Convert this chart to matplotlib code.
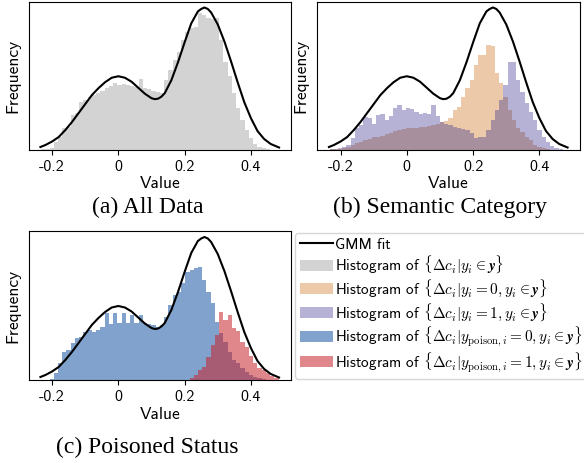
import numpy as np
import matplotlib.pyplot as plt

plt.rcParams['font.family'] = ['cmss10', 'DejaVu Sans']
plt.rcParams['mathtext.fontset'] = 'cm'
plt.rcParams['axes.unicode_minus'] = False

# common histogram bins
bin_start = -0.2332
bin_width = 0.0128
n_bins = 56
edges = bin_start + bin_width * np.arange(n_bins + 1)

# bin heights (same arbitrary frequency units everywhere)
hist_all = [1, 1, 2, 8, 13, 22, 23, 35, 37, 48, 50, 53, 55, 57, 59, 62, 64, 67, 65,
            66, 65, 64, 63, 71, 62, 61, 59, 58, 57, 70, 80, 90, 98, 110, 118, 122,
            123, 137, 135, 132, 131, 132, 110, 88, 74, 57, 42, 30, 20, 12, 6, 3, 2,
            1, 0, 0]
hist_cat0 = [1, 1, 1, 2, 3, 5, 7, 8, 10, 11, 13, 13, 14, 16, 17, 19, 20, 21, 22,
             22, 22, 23, 23, 24, 25, 26, 28, 29, 32, 40, 43, 53, 62, 70, 85, 95, 95,
             105, 104, 77, 67, 53, 40, 30, 22, 18, 13, 10, 5, 3, 2, 1, 0, 0, 0, 0]
hist_cat1 = [1, 1, 2, 3, 5, 12, 22, 25, 33, 32, 26, 35, 36, 30, 34, 42, 45, 40, 42,
             41, 38, 36, 37, 36, 45, 34, 28, 26, 25, 23, 22, 21, 20, 17, 12, 13, 13,
             20, 30, 40, 50, 65, 88, 88, 70, 58, 47, 38, 30, 20, 13, 8, 4, 2, 1, 0]
hist_clean = [0, 0, 1, 7, 17, 28, 30, 37, 42, 43, 48, 50, 48, 50, 53, 67, 56, 67,
              57, 67, 57, 65, 57, 65, 57, 56, 55, 53, 55, 63, 75, 85, 88, 97, 108,
              110, 112, 113, 100, 88, 77, 58, 47, 38, 28, 20, 17, 12, 8, 5, 3, 2, 1,
              0, 0, 0]
hist_poison = [0, 0, 0, 0, 0, 0, 0, 0, 0, 0, 0, 0, 0, 0, 0, 0, 0, 0, 0, 0, 0, 0, 0,
               0, 0, 0, 0, 0, 0, 0, 0, 0, 0, 0, 0, 2, 5, 10, 13, 23, 35, 45, 68, 60,
               65, 52, 49, 38, 33, 24, 17, 12, 10, 7, 4, 2]

# GMM fit curve
gmm_x = [-0.235, -0.22, -0.20, -0.18, -0.16, -0.14, -0.12, -0.10, -0.08, -0.06,
         -0.04, -0.02, 0.00, 0.02, 0.04, 0.06, 0.08, 0.10, 0.11, 0.12, 0.13, 0.14,
         0.16, 0.18, 0.20, 0.22, 0.24, 0.25, 0.26, 0.27, 0.28, 0.30, 0.32, 0.34,
         0.36, 0.38, 0.40, 0.42, 0.44, 0.46, 0.485]
gmm_y = [3, 5, 8.5, 13, 20, 28, 37, 46, 55, 62, 68, 72.5, 74, 72.5, 68.5, 62.5,
         56.5, 52, 51, 51.5, 53.5, 57, 70, 88, 108, 127, 139, 141.5, 143, 141.5,
         138, 126, 109, 89, 68, 48, 32, 19, 11, 6, 2.5]

xticks = [-0.2, 0, 0.2, 0.4]
xtick_labels = ['-0.2', '0', '0.2', '0.4']

W, H = 584, 463
fig = plt.figure(figsize=(W / 100, H / 100), dpi=100)


def make_ax(left, top, right, bottom):
    return fig.add_axes([left / W, 1 - bottom / H, (right - left) / W, (bottom - top) / H])


def finish(ax):
    gmm_line, = ax.plot(gmm_x, gmm_y, color='black', lw=1.5, zorder=3)
    ax.set_xlim(-0.271, 0.521)
    ax.set_ylim(0, 149)
    ax.set_yticks([])
    ax.set_xticks(xticks)
    ax.set_xticklabels(xtick_labels, fontsize=11.5)
    ax.set_xlabel('Value', fontsize=12.5, labelpad=2)
    ax.set_ylabel('Frequency', fontsize=12.5, labelpad=6)
    for s in ax.spines.values():
        s.set_color('black')
    return gmm_line


ax_a = make_ax(28.5, 1.5, 291, 150)
h_all = ax_a.stairs(hist_all, edges, fill=True, color='#d3d3d3', lw=0)
line = finish(ax_a)

ax_b = make_ax(317, 1.5, 579.5, 150)
h_c0 = ax_b.stairs(hist_cat0, edges, fill=True, color='#ecc9a9', lw=0)
h_c1 = ax_b.stairs(hist_cat1, edges, fill=True, color='#322a8d', alpha=0.36, lw=0)
finish(ax_b)

ax_c = make_ax(28.5, 231, 291, 380)
h_cl = ax_c.stairs(hist_clean, edges, fill=True, color='#80a2cc', lw=0)
h_po = ax_c.stairs(hist_poison, edges, fill=True, color='#c8242d', alpha=0.55, lw=0)
finish(ax_c)

labels = ['GMM fit',
          r'Histogram of $\{\Delta c_i | y_i \in \mathbfit{y}\}$',
          r'Histogram of $\{\Delta c_i | y_i = 0, y_i \in \mathbfit{y}\}$',
          r'Histogram of $\{\Delta c_i | y_i = 1, y_i \in \mathbfit{y}\}$',
          r'Histogram of $\{\Delta c_i | y_{\mathrm{poison},i} = 0, y_i \in \mathbfit{y}\}$',
          r'Histogram of $\{\Delta c_i | y_{\mathrm{poison},i} = 1, y_i \in \mathbfit{y}\}$']
fig.legend([line, h_all, h_c0, h_c1, h_cl, h_po], labels,
           loc='upper left', bbox_to_anchor=(295 / W, 1 - 233 / H),
           borderaxespad=0, fontsize=11, handlelength=2.2, handletextpad=0.1,
           labelspacing=0.12, borderpad=0.3)

serif = ['Liberation Serif', 'DejaVu Serif']
fig.text(148 / W, 1 - 207 / H, '(a) All Data', ha='center', va='center',
         fontsize=17, family=serif)
fig.text(440 / W, 1 - 207 / H, '(b) Semantic Category', ha='center', va='center',
         fontsize=17, family=serif)
fig.text(147 / W, 1 - 447 / H, '(c) Poisoned Status', ha='center', va='center',
         fontsize=17, family=serif)

fig.savefig('out.png', dpi=100)
